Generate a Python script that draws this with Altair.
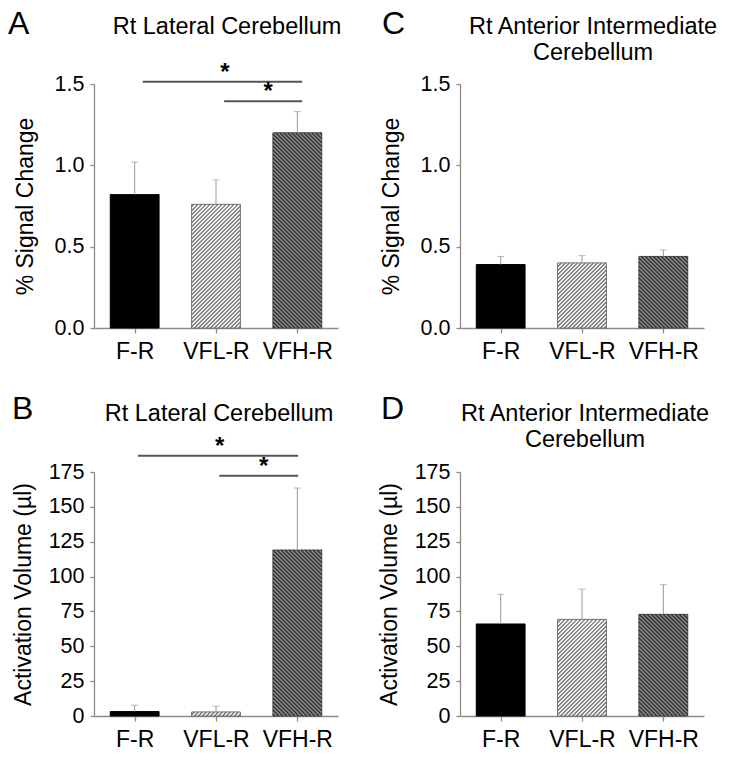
import altair as alt
import pandas as pd

# ---------------- data ----------------
cats = ["F-R", "VFL-R", "VFH-R"]

a_mean = [0.82, 0.76, 1.20]
a_err = [1.02, 0.91, 1.33]
c_mean = [0.39, 0.40, 0.44]
c_err = [0.44, 0.445, 0.48]
b_mean = [3.2, 2.9, 119.0]
b_err = [7.7, 7.0, 163.5]
d_mean = [66.0, 69.3, 72.9]
d_err = [87.3, 91.0, 94.2]

sig_from = ["F-R", "VFL-R"]
sig_to = ["VFH-R", "VFH-R"]
a_sig_y = [1.514, 1.394]
b_sig_y = [186.7, 172.3]

pct_ticks = [0.0, 0.5, 1.0, 1.5]
vol_ticks = [0, 25, 50, 75, 100, 125, 150, 175]

# ---------------- style ----------------
W, H = 244, 244
FONT = "Liberation Sans"
HALF = 0.3                 # half bar width, in category units
STEP_PX = W / 3.0          # px per category unit
BAR_PX = 2 * HALF * STEP_PX
AXIS_C = "#8a8a8a"

HATCH = {
    1: dict(kind="fwd", bg="#ffffff", line="#707070", width=1.3, stroke="#707070"),
    2: dict(kind="back", bg="#8f8f8f", line="#333333", width=1.5, stroke="#4a4a4a"),
}


def hatch_segments(idx, top, ymax, kind, ph=4.0):
    """Diagonal hatch lines clipped to the bar idx (0..top), in data units."""
    w = BAR_PX
    h = top / ymax * H
    out = []
    if kind == "fwd":  # '/'  :  Y - X = c
        c = -w + ph / 2
        while c < h:
            X0, X1 = max(0.0, -c), min(w, h - c)
            if X1 > X0:
                out.append((X0, X0 + c, X1, X1 + c))
            c += ph
    else:  # '\'  :  Y + X = c
        c = ph / 2
        while c < w + h:
            X0, X1 = max(0.0, c - h), min(w, c)
            if X1 > X0:
                out.append((X0, c - X0, X1, c - X1))
            c += ph
    rows = []
    for X0, Y0, X1, Y1 in out:
        rows.append({
            "hx": idx - HALF + X0 / STEP_PX, "hy": Y0 * ymax / H,
            "hx2": idx - HALF + X1 / STEP_PX, "hy2": Y1 * ymax / H,
        })
    return pd.DataFrame(rows)


label_expr = "[" + ",".join(f"'{c}'" for c in cats) + "][datum.value]"


def panel(letter, title_lines, ytitle, ymax, yvals, yfmt, means, errs,
          sig_y=None, sig_ends=None, star_shift=None, title_pad=14,
          title_x=0, title_y=-50, letter_x=-84, letter_y=-50):
    idx = list(range(len(cats)))
    df = pd.DataFrame({"i": idx, "cond": cats, "mean": means, "err": errs})
    df["x0"] = df["i"] - HALF
    df["x1"] = df["i"] + HALF

    xscale = alt.Scale(domain=[-0.5, 2.5], nice=False, zero=False)
    xaxis = alt.Axis(title=None, values=idx, labelExpr=label_expr, labelAngle=0,
                     labelFontSize=23, labelPadding=7, tickSize=5, labelColor="black",
                     grid=False, labelFont=FONT, labelFlush=False)
    yscale = alt.Scale(domain=[0, ymax], nice=False, zero=True)
    yaxis = alt.Axis(title=ytitle, values=yvals, format=yfmt, labelFontSize=21.5,
                     titleFontSize=23, titlePadding=title_pad, labelPadding=6, tickSize=4,
                     labelColor="black", titleColor="black", titleFontWeight="normal",
                     grid=False, labelFont=FONT, titleFont=FONT)

    base = alt.Chart(df)
    layers = []
    for i, c in enumerate(cats):
        if i == 0:
            mk = dict(fill="#000000", stroke="#000000", strokeWidth=1)
        else:
            mk = dict(fill=HATCH[i]["bg"], stroke=HATCH[i]["stroke"], strokeWidth=1)
        layers.append(
            base.transform_filter(alt.datum.cond == c).mark_rect(**mk).encode(
                x=alt.X("x0:Q", scale=xscale, axis=xaxis), x2="x1:Q",
                y=alt.Y("mean:Q", scale=yscale, axis=yaxis), y2=alt.datum(0))
        )
    for i in (1, 2):
        hs = hatch_segments(i, means[i], ymax, HATCH[i]["kind"])
        if len(hs):
            layers.append(alt.Chart(hs).mark_rule(
                color=HATCH[i]["line"], strokeWidth=HATCH[i]["width"]).encode(
                x=alt.X("hx:Q", scale=xscale, axis=xaxis), x2="hx2:Q",
                y=alt.Y("hy:Q", scale=yscale, axis=yaxis), y2="hy2:Q"))
    # error bars (upper only)
    layers.append(base.mark_rule(color="#9a9a9a", strokeWidth=1).encode(
        x=alt.X("i:Q", scale=xscale, axis=xaxis),
        y=alt.Y("mean:Q", scale=yscale, axis=yaxis), y2="err:Q"))
    layers.append(base.mark_tick(orient="horizontal", size=7, thickness=1, color="#9a9a9a").encode(
        x=alt.X("i:Q", scale=xscale, axis=xaxis),
        y=alt.Y("err:Q", scale=yscale, axis=yaxis)))

    if sig_y is not None:
        fi = [cats.index(c) for c in sig_from]
        ti = [cats.index(c) for c in sig_to]
        sdf = pd.DataFrame({"y": sig_y, "s": ["*", "*"]})
        sdf["sx0"] = [f + sig_ends[0] for f in fi]
        sdf["sx1"] = [t + sig_ends[1] for t in ti]
        sdf["mx"] = (sdf["sx0"] + sdf["sx1"]) / 2 + pd.Series(star_shift)
        sb = alt.Chart(sdf)
        layers.append(sb.mark_rule(color="#555555", strokeWidth=2).encode(
            x=alt.X("sx0:Q", scale=xscale, axis=xaxis), x2="sx1:Q",
            y=alt.Y("y:Q", scale=yscale, axis=yaxis)))
        layers.append(sb.mark_text(font=FONT, fontSize=24, fontWeight="bold", color="black",
                                   baseline="middle", dy=-9).encode(
            x=alt.X("mx:Q", scale=xscale, axis=xaxis),
            y=alt.Y("y:Q", scale=yscale, axis=yaxis), text="s:N"))

    one = pd.DataFrame({"k": [0]})
    layers.append(alt.Chart(one).mark_text(
        text=letter, font=FONT, fontSize=32, align="left", baseline="alphabetic", color="black"
    ).encode(x=alt.value(letter_x), y=alt.value(letter_y)))
    tl = title_lines if len(title_lines) > 1 else title_lines[0]
    layers.append(alt.Chart(one).mark_text(
        text=tl, font=FONT, fontSize=23.5, align="center", baseline="alphabetic",
        lineHeight=26, color="black"
    ).encode(x=alt.value(title_x), y=alt.value(title_y)))

    return alt.layer(*layers).properties(width=W, height=H)


pA = panel("A", ["Rt Lateral Cerebellum"], "% Signal Change", 1.5, pct_ticks, ".1f",
           a_mean, a_err, sig_y=a_sig_y, sig_ends=(0.10, 0.06), star_shift=[0.03, 0.06],
           title_pad=17, title_x=133, title_y=-50, letter_x=-86, letter_y=-50)
pC = panel("C", ["Rt Anterior Intermediate", "Cerebellum"], "% Signal Change", 1.5, pct_ticks, ".1f",
           c_mean, c_err, title_pad=17, title_x=133, title_y=-50, letter_x=-78, letter_y=-50)
pB = panel("B", ["Rt Lateral Cerebellum"], "Activation Volume (µl)", 175, vol_ticks, "d",
           b_mean, b_err, sig_y=b_sig_y, sig_ends=(0.04, 0.01), star_shift=[0.02, 0.06],
           title_pad=13, title_x=125, title_y=-51, letter_x=-82, letter_y=-53)
pD = panel("D", ["Rt Anterior Intermediate", "Cerebellum"], "Activation Volume (µl)", 175, vol_ticks, "d",
           d_mean, d_err, title_pad=13, title_x=125, title_y=-51, letter_x=-79, letter_y=-53)

chart = alt.concat(pA, pC, pB, pD, columns=2, spacing={"row": 144, "column": 122},
                   bounds="flush").properties(
    padding={"left": 0, "top": 0, "right": 0, "bottom": 0}
).configure(font=FONT, background="white").configure_view(
    strokeWidth=0, stroke="transparent"
).configure_axis(
    domainColor=AXIS_C, tickColor=AXIS_C, labelFont=FONT, titleFont=FONT,
    domainWidth=1.3, tickWidth=1.3
)

chart.save("out.html", embed_options={"renderer": "svg", "actions": False})
